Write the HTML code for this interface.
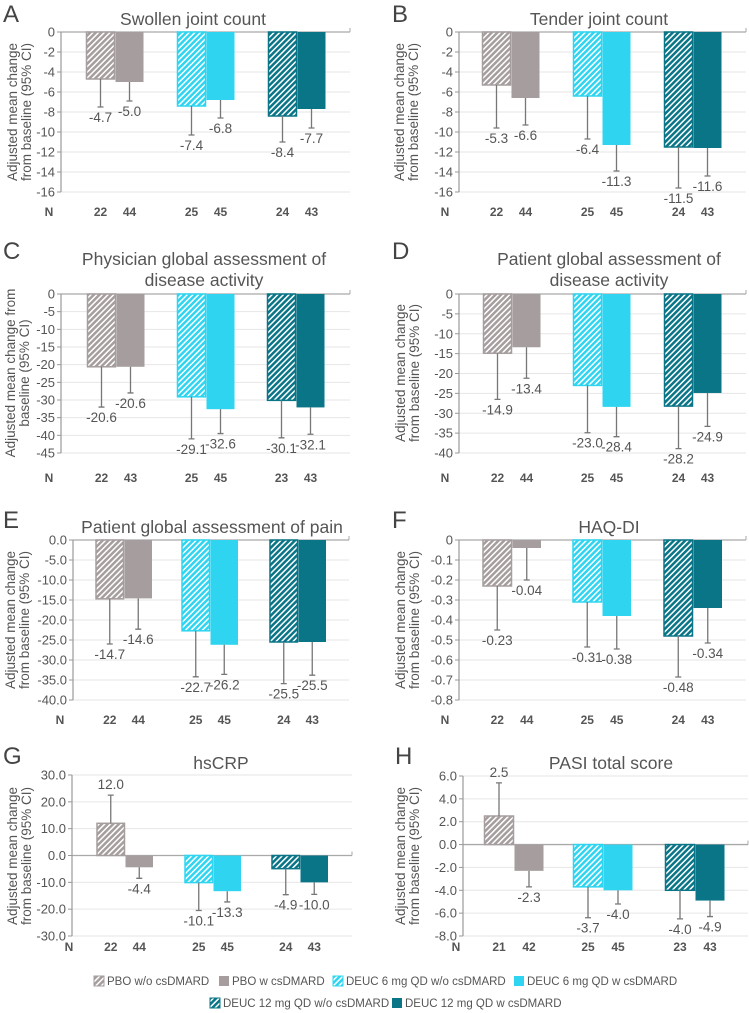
<!DOCTYPE html>
<html><head><meta charset="utf-8">
<style>
html,body{margin:0;padding:0;background:#fff;}
svg{display:block;font-family:"Liberation Sans","DejaVu Sans",sans-serif;}
</style></head>
<body>
<svg id="fig" width="749" height="1013" viewBox="0 0 749 1013" xmlns="http://www.w3.org/2000/svg">
<defs>
<pattern id="hatch-gray" patternUnits="userSpaceOnUse" width="4" height="4" patternTransform="rotate(45)"><rect width="4" height="4" fill="#a69e9e"/><rect width="1.5" height="4" fill="#fff"/></pattern>
<pattern id="hatch-cyan" patternUnits="userSpaceOnUse" width="4" height="4" patternTransform="rotate(45)"><rect width="4" height="4" fill="#2fd5f0"/><rect width="1.5" height="4" fill="#fff"/></pattern>
<pattern id="hatch-teal" patternUnits="userSpaceOnUse" width="4" height="4" patternTransform="rotate(45)"><rect width="4" height="4" fill="#0a7587"/><rect width="1.5" height="4" fill="#fff"/></pattern>
</defs>
<g id="legend">
<g><rect x="94" y="976" width="10" height="10" fill="url(#hatch-gray)" stroke="#a69e9e"/><text x="107" y="985" font-size="11.5" fill="#555">PBO w/o csDMARD</text></g>
<g><rect x="219" y="976" width="10" height="10" fill="#a69e9e"/><text x="232" y="985" font-size="11.5" fill="#555">PBO w csDMARD</text></g>
<g><rect x="333" y="976" width="10" height="10" fill="url(#hatch-cyan)" stroke="#2fd5f0"/><text x="346" y="985" font-size="11.5" fill="#555">DEUC 6 mg QD w/o csDMARD</text></g>
<g><rect x="514" y="976" width="10" height="10" fill="#2fd5f0"/><text x="527" y="985" font-size="11.5" fill="#555">DEUC 6 mg QD w csDMARD</text></g>
<g><rect x="210" y="998" width="10" height="10" fill="url(#hatch-teal)" stroke="#0a7587"/><text x="223" y="1007" font-size="11.5" fill="#555">DEUC 12 mg QD w/o csDMARD</text></g>
<g><rect x="392" y="998" width="10" height="10" fill="#0a7587"/><text x="405" y="1007" font-size="11.5" fill="#555">DEUC 12 mg QD w csDMARD</text></g>
</g>
</svg>
<script>
// ---- data ----
const meansA = [-4.7, -5.0, -7.4, -6.8, -8.4, -7.7];
const ciA = [-7.5, -6.9, -10.3, -8.6, -11.0, -9.6];
const nA = ["22", "44", "25", "45", "24", "43"];
const ticksA = ["0", "-2", "-4", "-6", "-8", "-10", "-12", "-14", "-16"];

const meansB = [-5.3, -6.6, -6.4, -11.3, -11.5, -11.6];
const ciB = [-9.6, -9.3, -10.7, -13.9, -15.6, -14.4];
const nB = ["22", "44", "25", "45", "24", "43"];
const ticksB = ["0", "-2", "-4", "-6", "-8", "-10", "-12", "-14", "-16"];

const meansC = [-20.6, -20.6, -29.1, -32.6, -30.1, -32.1];
const ciC = [-32.0, -28.0, -41.0, -39.5, -40.7, -39.7];
const nC = ["22", "43", "25", "45", "23", "43"];
const ticksC = ["0", "-5", "-10", "-15", "-20", "-25", "-30", "-35", "-40", "-45"];

const meansD = [-14.9, -13.4, -23.0, -28.4, -28.2, -24.9];
const ciD = [-26.5, -21.2, -34.9, -35.9, -38.9, -33.3];
const nD = ["22", "44", "25", "45", "24", "43"];
const ticksD = ["0", "-5", "-10", "-15", "-20", "-25", "-30", "-35", "-40"];

const meansE = [-14.7, -14.6, -22.7, -26.2, -25.5, -25.5];
const ciE = [-26.0, -22.3, -34.2, -33.6, -35.9, -33.8];
const nE = ["22", "44", "25", "45", "24", "43"];
const ticksE = ["0.0", "-5.0", "-10.0", "-15.0", "-20.0", "-25.0", "-30.0", "-35.0", "-40.0"];

const meansF = [-0.23, -0.04, -0.31, -0.38, -0.48, -0.34];
const ciF = [-0.45, -0.20, -0.535, -0.545, -0.685, -0.515];
const nF = ["22", "44", "25", "45", "24", "43"];
const ticksF = ["0", "-0.1", "-0.2", "-0.3", "-0.4", "-0.5", "-0.6", "-0.7", "-0.8"];

const meansG = [12.0, -4.4, -10.1, -13.3, -4.9, -10.0];
const ciG = [22.5, -8.5, -20.5, -17.3, -14.6, -14.5];
const nG = ["22", "44", "25", "45", "24", "43"];
const ticksG = ["30.0", "20.0", "10.0", "0.0", "-10.0", "-20.0", "-30.0"];

const meansH = [2.5, -2.3, -3.7, -4.0, -4.0, -4.9];
const ciH = [5.4, -3.7, -6.4, -5.2, -6.5, -6.3];
const nH = ["21", "42", "25", "45", "23", "43"];
const ticksH = ["6.0", "4.0", "2.0", "0.0", "-2.0", "-4.0", "-6.0", "-8.0"];

const titles = {
  A: ["Swollen joint count"], B: ["Tender joint count"],
  C: ["Physician global assessment of", "disease activity"],
  D: ["Patient global assessment of", "disease activity"],
  E: ["Patient global assessment of pain"], F: ["HAQ-DI"],
  G: ["hsCRP"], H: ["PASI total score"]
};

// ---- layout ----
const NS = "http://www.w3.org/2000/svg";
const svg = document.getElementById("fig");
const solid = ["#a69e9e", "#2fd5f0", "#0a7587"];
const hatch = ["url(#hatch-gray)", "url(#hatch-cyan)", "url(#hatch-teal)"];
const groupNames = ["pbo", "deuc6", "deuc12"];

function mk(tag, attrs, parent) {
  const e = document.createElementNS(NS, tag);
  for (const k in attrs) e.setAttribute(k, attrs[k]);
  parent.appendChild(e);
  return e;
}

function drawPanel(key, g, means, cis, ns, ticks, dec) {
  const panel = mk("g", {}, svg);
  
  
  const tv = ticks.map(parseFloat);
  const max = Math.max(...tv), min = Math.min(...tv);
  const y = v => g.yTop + (max - v) / (max - min) * (g.yBot - g.yTop);

  const letter = mk("text", {x: g.lx, y: g.ly, "font-size": 24, fill: "#444"}, panel);
  letter.textContent = key;
  
  

  const tl = titles[key];
  tl.forEach((s, i) => {
    const t = mk("text", {x: g.tx, y: g.ty + i * 21 - (tl.length - 1) * 21 + 6, "font-size": 17.5, fill: "#555", "text-anchor": "middle"}, panel);
    t.textContent = s;
    
    
  });

  ticks.forEach((s, i) => {
    const yy = y(tv[i]);
    const isZero = tv[i] === 0;
    const gl = mk("line", {x1: g.axisL, x2: g.axisR, y1: yy, y2: yy, stroke: isZero ? "#a9a9a9" : "#e6e6e6", "stroke-width": isZero ? 1.3 : 1}, panel);
    
    
    mk("line", {x1: g.axisL - 4, x2: g.axisL, y1: yy, y2: yy, stroke: "#999"}, panel);
    const t = mk("text", {x: g.axisL - 6, y: yy + 4.5, "font-size": 13, fill: "#555", "text-anchor": "end"}, panel);
    t.textContent = s;
    
    
  });
  const ax = mk("line", {x1: g.axisL, x2: g.axisL, y1: g.yTop, y2: g.yBot, stroke: "#999", "stroke-width": 1.2}, panel);
  
  
  mk("line", {x1: g.axisR, x2: g.axisR, y1: y(0) - 4, y2: y(0), stroke: "#a9a9a9"}, panel);

  const yt = mk("text", {transform: `translate(${g.yx},${g.yc}) rotate(-90)`, "font-size": 13.5, fill: "#555", "text-anchor": "middle"}, panel);
  
  
  g.ylines.forEach((s, i) => {
    const ts = mk("tspan", {x: 0, dy: i === 0 ? 0 : 14}, yt);
    ts.textContent = s;
  });

  const nl = mk("text", {x: g.nx, y: g.ny + 4, "font-size": 12, "font-weight": "bold", fill: "#555", "text-anchor": "middle"}, panel);
  nl.textContent = "N";
  
  

  const y0 = y(0);
  means.forEach((m, i) => {
    const gi = Math.floor(i / 2);
    const hatched = i % 2 === 0;
    const x = hatched ? g.centers[gi] - g.bw : g.centers[gi];
    const cx = x + g.bw / 2;
    const ym = y(m);
    const bar = mk("rect", {x: x + 0.5, y: Math.min(ym, y0), width: g.bw - 1, height: Math.abs(ym - y0),
      fill: hatched ? hatch[gi] : solid[gi], stroke: hatched ? solid[gi] : "none", "stroke-width": 1.5}, panel);
    
    
    const yc = y(cis[i]);
    const eb = mk("path", {d: `M${cx},${ym}V${yc}M${cx - 3},${yc}H${cx + 3}`, stroke: "#777", "stroke-width": 1.3, fill: "none"}, panel);
    
    
    const ly = cis[i] >= 0 ? yc - 6 : yc + 15;
    const vl = mk("text", {x: cx, y: ly, "font-size": 13.5, fill: "#555", "text-anchor": "middle"}, panel);
    vl.textContent = m.toFixed(dec);
    
    
    const nt = mk("text", {x: cx, y: g.ny + 4, "font-size": 12, "font-weight": "bold", fill: "#555", "text-anchor": "middle"}, panel);
    nt.textContent = ns[i];
    
    
  });
}

const yl1 = ["Adjusted mean change", "from baseline (95% CI)"];
const yl2 = ["Adjusted mean change from", "baseline (95% CI)"];

drawPanel("A", {axisL: 61, axisR: 350, centers: [115, 206, 297], bw: 29, yTop: 32, yBot: 192, tx: 193, ty: 19, lx: 3, ly: 22, nx: 49, ny: 212, yx: 17, yc: 112, ylines: yl1}, meansA, ciA, nA, ticksA, 1);
drawPanel("B", {axisL: 459, axisR: 746, centers: [511, 602, 693], bw: 29, yTop: 32, yBot: 192, tx: 599, ty: 19, lx: 392, ly: 22, nx: 445, ny: 212, yx: 404, yc: 112, ylines: yl1}, meansB, ciB, nB, ticksB, 1);
drawPanel("C", {axisL: 61, axisR: 350, centers: [116, 206, 296], bw: 29, yTop: 294, yBot: 453, tx: 204, ty: 280, lx: 3, ly: 259, nx: 49, ny: 478, yx: 15, yc: 373, ylines: yl2}, meansC, ciC, nC, ticksC, 1);
drawPanel("D", {axisL: 459, axisR: 746, centers: [512, 602, 693], bw: 29, yTop: 294, yBot: 453, tx: 609, ty: 280, lx: 392, ly: 259, nx: 445, ny: 478, yx: 405, yc: 373, ylines: yl1}, meansD, ciD, nD, ticksD, 1);
drawPanel("E", {axisL: 73, axisR: 349, centers: [124, 210, 298], bw: 28.5, yTop: 540, yBot: 700, tx: 212, ty: 527, lx: 3, ly: 528, nx: 60, ny: 720, yx: 15, yc: 620, ylines: yl1}, meansE, ciE, nE, ticksE, 1);
drawPanel("F", {axisL: 459, axisR: 746, centers: [512, 602, 693], bw: 29.5, yTop: 540, yBot: 700, tx: 609, ty: 527, lx: 392, ly: 528, nx: 445, ny: 720, yx: 405, yc: 620, ylines: yl1}, meansF, ciF, nF, ticksF, 2);
drawPanel("G", {axisL: 72, axisR: 352, centers: [125, 213, 300], bw: 28.5, yTop: 775, yBot: 936, tx: 221, ty: 763, lx: 3, ly: 764, nx: 69, ny: 947, yx: 17, yc: 856, ylines: yl1}, meansG, ciG, nG, ticksG, 1);
drawPanel("H", {axisL: 463, axisR: 748, centers: [514, 603, 695], bw: 30, yTop: 776, yBot: 936, tx: 611, ty: 763, lx: 395, ly: 764, nx: 456, ny: 947, yx: 405, yc: 856, ylines: yl1}, meansH, ciH, nH, ticksH, 1);
</script>
</body></html>
